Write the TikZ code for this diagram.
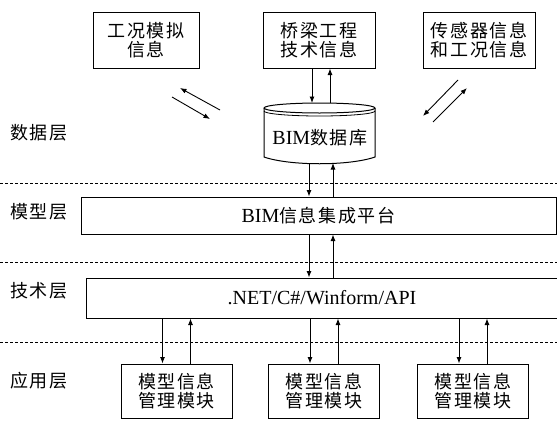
\documentclass[tikz,border=0pt]{standalone}
\usepackage{fontspec}
\setmainfont{Liberation Serif}
\newfontfamily\cjk[LetterSpace=9]{Noto Sans CJK SC}
\usetikzlibrary{arrows.meta}
\usetikzlibrary{calc}

\newcommand{\lat}[1]{{\rmfamily\fontsize{20}{20}\selectfont #1}}

\begin{document}
\begin{tikzpicture}[x=1pt, y=-1pt, >={Latex[length=6.5pt,width=5pt]},
	infobox/.style={draw=black, line width=1pt, inner sep=0pt, align=center,
		font=\cjk\fontsize{18}{19.5}\selectfont},
	layer/.style={font=\cjk\fontsize{18}{19.5}\selectfont},
	flow/.style={->, line width=0.9pt},
	sep/.style={dashed, line width=0.6pt, dash pattern=on 3pt off 2pt}]

	\useasboundingbox (0,0) rectangle (557,421);

	% layer labels and dashed separators
	\node[layer] (ldata) at (39,133) {数据层};
	\node[layer] (lmodel) at (39,212) {模型层};
	\node[layer] (ltech) at (39,291) {技术层};
	\node[layer] (lapp) at (39,381) {应用层};
	\draw[sep] (0,183) -- (557,183);
	\draw[sep] (0,262) -- (557,262);
	\draw[sep] (0,342) -- (557,342);

	% data sources
	\node[infobox, minimum width=106pt, minimum height=56pt] (sim) at (146,40) {工况模拟\\信息};
	\node[infobox, minimum width=112pt, minimum height=56pt] (bridge) at (319,40) {桥梁工程\\技术信息};
	\node[infobox, minimum width=112pt, minimum height=56pt] (sensor) at (479,40) {传感器信息\\和工况信息};

	% BIM database, drawn as a drum
	\draw[line width=1pt] (264,108) -- (264,157) .. controls (290,166) and (349,166) .. (375,157) -- (375,108);
	\draw[line width=1pt] (319.5,108) ellipse (55.5 and 5);
	\draw[line width=0.8pt] (375,111) arc[start angle=0, end angle=180, x radius=55.5, y radius=5];
	\node[font=\cjk\fontsize{18}{19.5}\selectfont] (db) at (320,138) {\lat{BIM}数据库};
	\coordinate (dbtop) at (320,103);
	\coordinate (dbbot) at (320,163);

	% platform and technology layer
	\node[infobox, minimum width=475pt, minimum height=37pt] (model) at (318.5,215.5) {\lat{BIM}信息集成平台};
	\node[infobox, minimum width=472pt, minimum height=40pt] (tech) at (322,298) {\lat{.NET/C\#/Winform/API}};

	% application modules
	\foreach \i/\x in {1/176.5, 2/324, 3/473} {
		\node[infobox, minimum width=111pt, minimum height=54pt] (app\i) at (\x,391) {模型信息\\管理模块};
		\coordinate (dn\i) at ($(app\i.north)+(-14,0)$);
		\coordinate (up\i) at ($(app\i.north)+(14,0)$);
		\draw[flow] (dn\i |- tech.south) -- (dn\i);
		\draw[flow] (up\i) -- (up\i |- tech.south);
	}

	% bridge info <-> database
	\coordinate (bd) at (312,0);
	\coordinate (bu) at (330,0);
	\draw[flow] (bridge.south -| bd) -- (dbtop -| bd);
	\draw[flow] (dbtop -| bu) -- (bridge.south -| bu);

	% database <-> platform <-> technology
	\coordinate (md) at (309,0);
	\coordinate (mu) at (333,0);
	\draw[flow] (dbbot -| md) -- (model.north -| md);
	\draw[flow] (model.north -| mu) -- (dbbot -| mu);
	\draw[flow] (model.south -| md) -- (tech.north -| md);
	\draw[flow] (tech.north -| mu) -- (model.south -| mu);

	% exchange with the side sources
	\coordinate (sa1) at (220,110); \coordinate (sa2) at (180,88);
	\coordinate (sb1) at (172,97);  \coordinate (sb2) at (210,119);
	\draw[flow] (sa1) -- (sa2);
	\draw[flow] (sb1) -- (sb2);
	\coordinate (sc1) at (458,80);  \coordinate (sc2) at (423,116);
	\coordinate (sd1) at (433,122); \coordinate (sd2) at (467,88);
	\draw[flow] (sc1) -- (sc2);
	\draw[flow] (sd1) -- (sd2);

\end{tikzpicture}
\end{document}
